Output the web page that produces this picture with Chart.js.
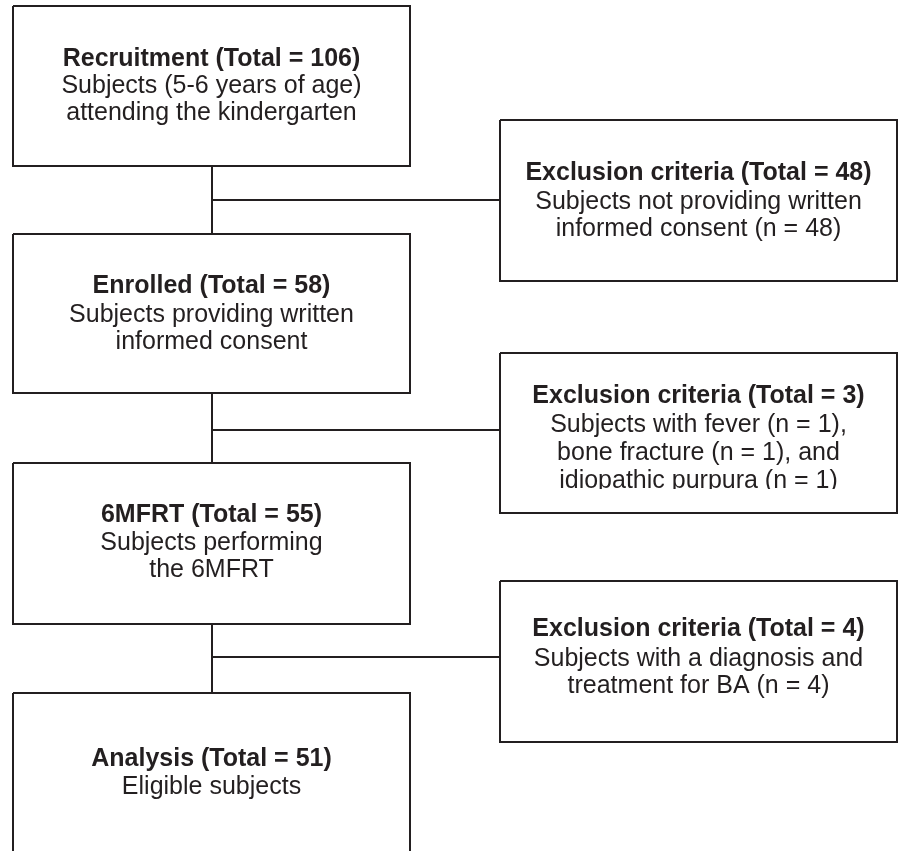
<!DOCTYPE html>
<html>
<head>
<meta charset="utf-8">
<script src="https://cdn.jsdelivr.net/npm/chart.js@4/dist/chart.umd.min.js"></script>
<style>
  html, body { margin: 0; padding: 0; background: #ffffff; }
  #wrap { width: 898px; height: 851px; position: relative; }
  canvas { display: block; }
</style>
</head>
<body>
<div id="wrap"><canvas id="c" width="898" height="851"></canvas></div>
<script>
// ---- Data ----
const stageNames = ['Recruitment', 'Enrolled', '6MFRT', 'Analysis'];
const stageTotals = [106, 58, 55, 51];
const stageDescriptions = [
  ['Subjects (5-6 years of age)', 'attending the kindergarten'],
  ['Subjects providing written', 'informed consent'],
  ['Subjects performing', 'the 6MFRT'],
  ['Eligible subjects']
];
const exclusionName = 'Exclusion criteria';
const exclusionTotals = [48, 3, 4];
const exclusionDescriptions = [
  ['Subjects not providing written', 'informed consent (n = 48)'],
  ['Subjects with fever (n = 1),', 'bone fracture (n = 1), and', 'idiopathic purpura (n = 1)'],
  ['Subjects with a diagnosis and', 'treatment for BA (n = 4)']
];

// ---- Layout (pixel-space coordinates of the diagram canvas) ----
const leftX = [13, 410];
const rightX = [500, 897];
const stageY = [[6, 166], [234, 393], [463, 624], [693, 860]];
const exclY = [[120, 281], [353, 513], [581, 742]];
const branchY = [200, 430, 657];
const spineX = 212;
const stageBaselines = [[66, 93, 120], [293, 322, 349], [522, 550, 577], [766, 794]];
const exclBaselines = [[180, 209, 236], [403, 432, 460, 488], [636, 666, 693]];
const exclClipBottom = [null, 489, null];

const INK = '#231f20';
const FONT = '"Liberation Sans", Arial, Helvetica, sans-serif';

function rectPts(x, y) {
  return [{x: x[0], y: y[0]}, {x: x[1], y: y[0]}, {x: x[1], y: y[1]}, {x: x[0], y: y[1]}, {x: x[0], y: y[0]}];
}
function lineDs(data, w) {
  return { data, showLine: true, borderColor: INK, borderWidth: w, pointRadius: 0,
           pointHoverRadius: 0, fill: false, tension: 0, clip: false };
}

const datasets = [];
stageY.forEach(y => datasets.push(lineDs(rectPts(leftX, y), 2)));
exclY.forEach(y => datasets.push(lineDs(rectPts(rightX, y), 2)));
for (let i = 0; i < 3; i++) {
  datasets.push(lineDs([{x: spineX, y: stageY[i][1]}, {x: spineX, y: stageY[i + 1][0]}], 2));
  datasets.push(lineDs([{x: spineX, y: branchY[i]}, {x: rightX[0], y: branchY[i]}], 1.8));
}

const textPlugin = {
  id: 'boxText',
  afterDatasetsDraw(chart) {
    const ctx = chart.ctx;
    const xs = chart.scales.x, ys = chart.scales.y;
    ctx.save();
    ctx.fillStyle = INK;
    ctx.textAlign = 'center';
    ctx.textBaseline = 'alphabetic';
    function drawBlock(xr, title, lines, baselines, clipBottom) {
      const cx = xs.getPixelForValue((xr[0] + xr[1]) / 2);
      ctx.save();
      if (clipBottom != null) {
        ctx.beginPath();
        ctx.rect(0, 0, chart.width, ys.getPixelForValue(clipBottom));
        ctx.clip();
      }
      ctx.font = 'bold 25px ' + FONT;
      ctx.fillText(title, cx, ys.getPixelForValue(baselines[0]));
      ctx.font = '25px ' + FONT;
      lines.forEach((t, i) => ctx.fillText(t, cx, ys.getPixelForValue(baselines[i + 1])));
      ctx.restore();
    }
    stageNames.forEach((n, i) => drawBlock(leftX, n + ' (Total = ' + stageTotals[i] + ')', stageDescriptions[i], stageBaselines[i], null));
    exclusionTotals.forEach((v, i) => drawBlock(rightX, exclusionName + ' (Total = ' + v + ')', exclusionDescriptions[i], exclBaselines[i], exclClipBottom[i]));
    ctx.restore();
  }
};

new Chart(document.getElementById('c'), {
  type: 'scatter',
  data: { datasets },
  options: {
    responsive: false,
    devicePixelRatio: 1,
    animation: false,
    layout: { padding: 0 },
    plugins: { legend: { display: false }, tooltip: { enabled: false } },
    events: [],
    scales: {
      x: { type: 'linear', min: 0, max: 898, display: false },
      y: { type: 'linear', min: 0, max: 851, reverse: true, display: false }
    }
  },
  plugins: [textPlugin]
});
</script>
</body>
</html>
